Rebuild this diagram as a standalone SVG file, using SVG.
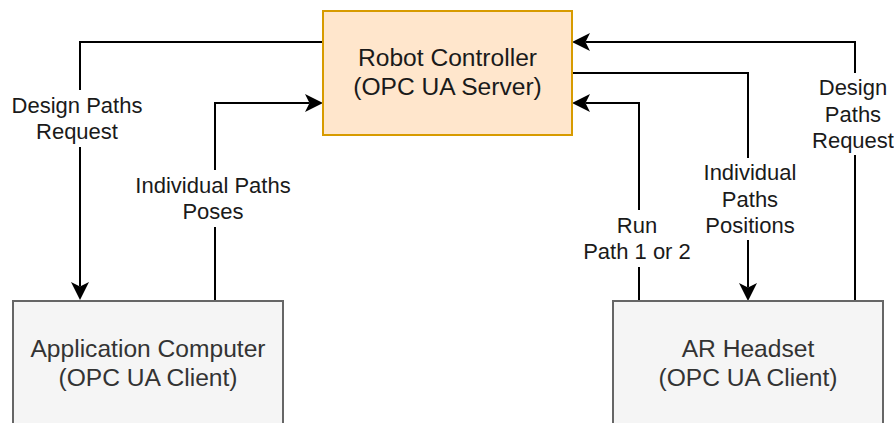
<svg xmlns="http://www.w3.org/2000/svg" width="894" height="423" viewBox="0 0 894 423">
<defs>
<marker id="arr" markerUnits="userSpaceOnUse" viewBox="0 0 18 18" refX="4.5" refY="9" markerWidth="18" markerHeight="18" orient="auto">
<path d="M0,0 L18,9 L0,18 L4.5,9 Z" fill="#000"/>
</marker>
<style>
.edge{fill:none;stroke:#000;stroke-width:2}
.lbl{font-family:"Liberation Sans",Arial,sans-serif;font-size:22px;fill:#1a1a1a;text-anchor:middle}
.bg{fill:#fff}
.nt{font-family:"Liberation Sans",Arial,sans-serif;font-size:24.6px;text-anchor:middle}
</style>
</defs>
<rect width="894" height="423" fill="#fff"/>
<g id="connectors">
<path class="edge" d="M323,42 H80 V286.5" marker-end="url(#arr)"/>
<path class="edge" d="M215,301 V103 H309.5" marker-end="url(#arr)"/>
<path class="edge" d="M855,301 V42 H585.5" marker-end="url(#arr)"/>
<path class="edge" d="M572,73 H748 V287.5" marker-end="url(#arr)"/>
<path class="edge" d="M639,301 V103 H585.5" marker-end="url(#arr)"/>
<rect class="bg" x="9" y="90" width="138" height="57"/>
<text class="lbl" x="77" y="113">Design Paths</text>
<text class="lbl" x="77" y="139">Request</text>
<rect class="bg" x="130" y="170" width="166" height="57"/>
<text class="lbl" x="213" y="193">Individual Paths</text>
<text class="lbl" x="213" y="219">Poses</text>
<rect class="bg" x="580" y="210" width="114" height="57"/>
<text class="lbl" x="637" y="233">Run</text>
<text class="lbl" x="637" y="259">Path 1 or 2</text>
<rect class="bg" x="700" y="158" width="100" height="82"/>
<text class="lbl" x="750" y="180">Individual</text>
<text class="lbl" x="750" y="206.5">Paths</text>
<text class="lbl" x="750" y="233">Positions</text>
<rect class="bg" x="808" y="73" width="86" height="82"/>
<text class="lbl" x="853" y="95">Design</text>
<text class="lbl" x="853" y="121.5">Paths</text>
<text class="lbl" x="853" y="148">Request</text>
</g>
<g id="robot">
<rect x="323" y="11" width="249" height="124" fill="#ffe6cc" stroke="#d79b00" stroke-width="2"/>
<text class="nt" x="447.5" y="66" fill="#1a1a1a">Robot Controller</text>
<text class="nt" x="447.5" y="95" fill="#1a1a1a">(OPC UA Server)</text>
</g>
<g id="app">
<rect x="13" y="301" width="270" height="124" fill="#f5f5f5" stroke="#666" stroke-width="2"/>
<text class="nt" x="148" y="357" fill="#333">Application Computer</text>
<text class="nt" x="148" y="386" fill="#333">(OPC UA Client)</text>
</g>
<g id="ar">
<rect x="613" y="301" width="270" height="124" fill="#f5f5f5" stroke="#666" stroke-width="2"/>
<text class="nt" x="748" y="357" fill="#333">AR Headset</text>
<text class="nt" x="748" y="386" fill="#333">(OPC UA Client)</text>
</g>
</svg>
